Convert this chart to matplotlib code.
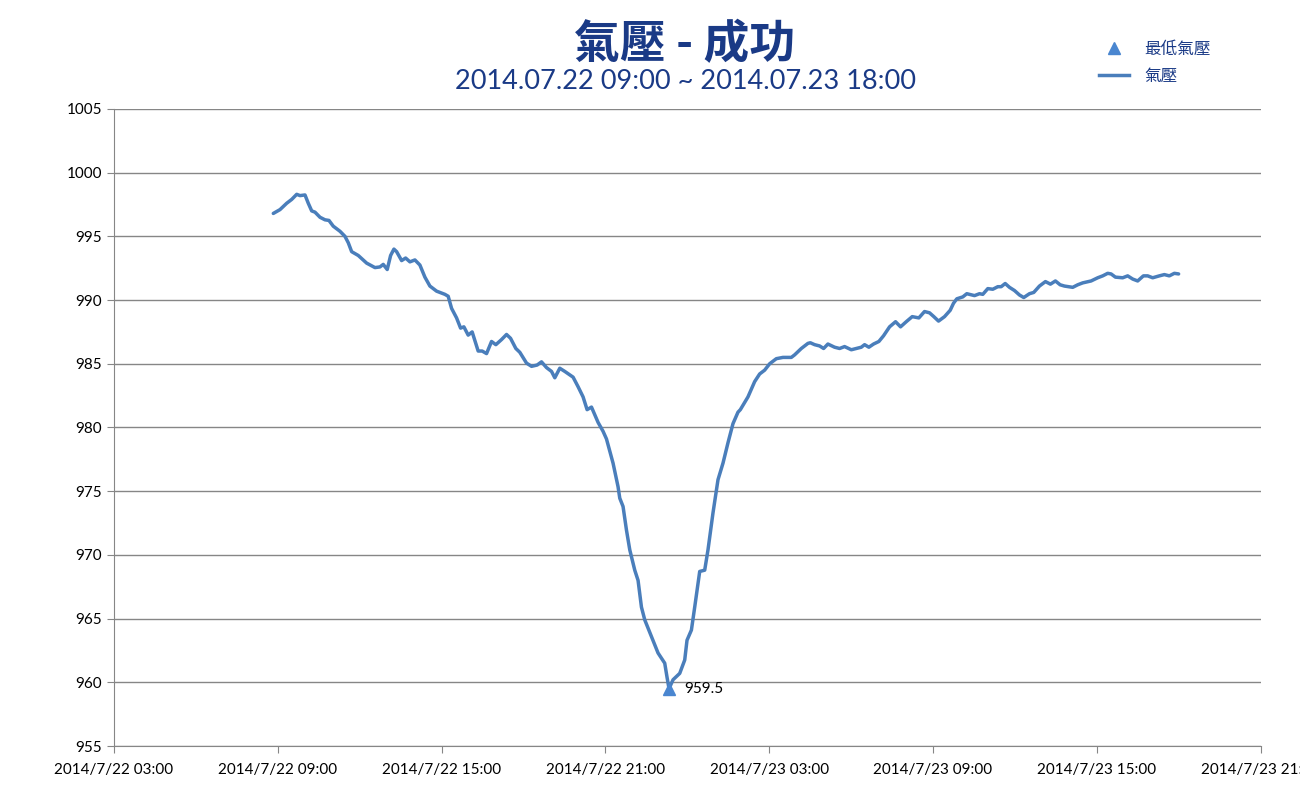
import numpy as np
import pandas as pd
import matplotlib
matplotlib.use("Agg")
import matplotlib.pyplot as plt
import matplotlib.dates as mdates
from matplotlib.lines import Line2D
from matplotlib.ticker import FuncFormatter

plt.rcParams['font.family'] = ['Lato', 'Noto Sans CJK TC', 'DejaVu Sans']

# 氣壓 data
# hours counted from 2014/7/22 00:00
hours = [8.835, 9.08, 9.326, 9.509, 9.692, 9.813, 9.996, 10.116, 10.241, 10.362,
         10.545, 10.728, 10.874, 11.031, 11.277, 11.46, 11.581, 11.705, 11.947, 12.254,
         12.558, 12.741, 12.862, 13.008, 13.132, 13.253, 13.352, 13.535, 13.682, 13.839,
         14.022, 14.205, 14.388, 14.571, 14.816, 15.12, 15.241, 15.365, 15.548, 15.695,
         15.816, 15.973, 16.119, 16.339, 16.485, 16.646, 16.829, 16.987, 17.195, 17.378,
         17.525, 17.719, 17.865, 18.111, 18.294, 18.498, 18.659, 18.843, 19.026, 19.146,
         19.329, 19.512, 19.816, 19.999, 20.182, 20.329, 20.49, 20.611, 20.731, 20.914,
         21.039, 21.28, 21.463, 21.526, 21.646, 21.771, 21.892, 22.075, 22.196, 22.32,
         22.441, 22.686, 22.928, 23.173, 23.257, 23.33, 23.477, 23.722, 23.905, 23.989,
         24.15, 24.271, 24.454, 24.637, 24.758, 24.941, 25.124, 25.307, 25.49, 25.673,
         25.856, 25.943, 26.222, 26.467, 26.65, 26.833, 27.016, 27.261, 27.503, 27.81,
         27.931, 28.176, 28.418, 28.506, 28.663, 28.846, 28.993, 29.15, 29.395, 29.578,
         29.761, 30.007, 30.19, 30.373, 30.494, 30.651, 30.823, 31.017, 31.189, 31.409,
         31.628, 31.811, 32.019, 32.239, 32.481, 32.689, 32.872, 33.03, 33.202, 33.422,
         33.63, 33.751, 33.872, 34.092, 34.238, 34.52, 34.703, 34.824, 35.007, 35.19,
         35.373, 35.497, 35.644, 35.801, 35.984, 36.167, 36.324, 36.533, 36.69, 36.899,
         37.118, 37.301, 37.484, 37.656, 37.814, 38.118, 38.301, 38.484, 38.791, 39.033,
         39.216, 39.399, 39.524, 39.681, 39.948, 40.131, 40.314, 40.497, 40.706, 40.863,
         41.046, 41.291, 41.474, 41.657, 41.84, 41.997]
pressure = [996.8, 997.1, 997.6, 997.9, 998.3, 998.2, 998.25, 997.6, 997.0, 996.9,
            996.5, 996.3, 996.25, 995.8, 995.4, 995.0, 994.5, 993.8, 993.5, 992.9,
            992.55, 992.6, 992.8, 992.4, 993.5, 994.0, 993.8, 993.1, 993.3, 993.0,
            993.15, 992.75, 991.8, 991.1, 990.7, 990.45, 990.3, 989.35, 988.6, 987.8,
            987.9, 987.25, 987.5, 986.0, 986.0, 985.8, 986.75, 986.5, 986.9, 987.3,
            987.0, 986.2, 985.9, 985.05, 984.8, 984.9, 985.15, 984.7, 984.4, 983.9,
            984.65, 984.4, 983.95, 983.2, 982.4, 981.4, 981.6, 981.0, 980.4, 979.7,
            979.1, 977.2, 975.35, 974.45, 973.8, 971.95, 970.4, 968.8, 968.0, 965.9,
            964.9, 963.6, 962.3, 961.5, 960.4, 959.5, 960.2, 960.7, 961.75, 963.3,
            964.1, 965.9, 968.7, 968.8, 970.4, 973.3, 975.9, 977.2, 978.8, 980.3,
            981.2, 981.4, 982.4, 983.6, 984.2, 984.5, 985.0, 985.4, 985.5, 985.5,
            985.7, 986.2, 986.6, 986.65, 986.5, 986.4, 986.2, 986.55, 986.3, 986.2,
            986.35, 986.1, 986.2, 986.3, 986.5, 986.3, 986.55, 986.75, 987.2, 987.9,
            988.3, 987.9, 988.3, 988.7, 988.6, 989.1, 989.0, 988.7, 988.35, 988.7,
            989.2, 989.75, 990.1, 990.25, 990.5, 990.35, 990.5, 990.45, 990.9, 990.85,
            991.05, 991.05, 991.3, 991.0, 990.75, 990.4, 990.2, 990.5, 990.6, 991.1,
            991.45, 991.25, 991.5, 991.2, 991.1, 991.0, 991.2, 991.35, 991.5, 991.75,
            991.9, 992.1, 992.05, 991.8, 991.75, 991.9, 991.65, 991.5, 991.9, 991.9,
            991.75, 991.9, 992.0, 991.9, 992.1, 992.05]

title = "氣壓 - 成功"
subtitle = "2014.07.22 09:00 ~ 2014.07.23 18:00"
y_ticks = [955, 960, 965, 970, 975, 980, 985, 990, 995, 1000, 1005]

start = pd.Timestamp("2014-07-22 00:00")
times = start + pd.to_timedelta(hours, unit="h")
pressure = np.array(pressure)
imin = int(np.argmin(pressure))

line_col = "#4a7ebb"
navy = "#1a3a86"

fig = plt.figure(figsize=(13, 8), dpi=100)
ax = fig.add_axes([0.0877, 0.0675, 0.882, 0.7963])

ax.plot(times, pressure, color=line_col, lw=2.5, solid_joinstyle="round",
        solid_capstyle="round", zorder=3)
ax.plot(times[imin], pressure[imin], marker="^", color="#4a86d0", ms=9, ls="none", zorder=4)
ax.annotate(f"{pressure[imin]:.1f}", (mdates.date2num(times[imin]), pressure[imin]),
            xytext=(11, 0), textcoords="offset points", va="center", ha="left", fontsize=11)

ax.set_ylim(955, 1005)
ax.set_yticks(y_ticks)
ax.set_xlim(pd.Timestamp("2014-07-22 03:00"), pd.Timestamp("2014-07-23 21:00"))
xt = pd.date_range("2014-07-22 03:00", "2014-07-23 21:00", freq="6h")
ax.set_xticks(xt)


def fmt_date(v, pos):
    d = mdates.num2date(v)
    return f"{d.year}/{d.month}/{d.day} {d.hour:02d}:{d.minute:02d}"


ax.xaxis.set_major_formatter(FuncFormatter(fmt_date))

ax.grid(axis="y", color="#868686", lw=1)
ax.set_axisbelow(True)
for s in ["top", "right"]:
    ax.spines[s].set_visible(False)
for s in ["left", "bottom"]:
    ax.spines[s].set_color("#868686")
ax.tick_params(axis="both", colors="#868686", labelcolor="black", labelsize=11, length=5)
ax.tick_params(axis="x", pad=7.5)

fig.text(0.527, 0.944, title, ha="center", va="center", fontsize=33, fontweight="bold",
         color=navy, family=["Noto Sans CJK TC"])
fig.text(0.527, 0.898, subtitle, ha="center", va="center", fontsize=19.5, color=navy)

handles = [Line2D([], [], marker="^", color="#4a86d0", ls="none", ms=8),
           Line2D([], [], color=line_col, lw=2.5)]
fig.legend(handles, ["最低氣壓", "氣壓"], loc="upper left", bbox_to_anchor=(0.8335, 0.9675),
           frameon=False, fontsize=12, handlelength=1.85, handletextpad=0.9,
           labelspacing=0.65, labelcolor=navy)

fig.savefig("out.png", dpi=100)
